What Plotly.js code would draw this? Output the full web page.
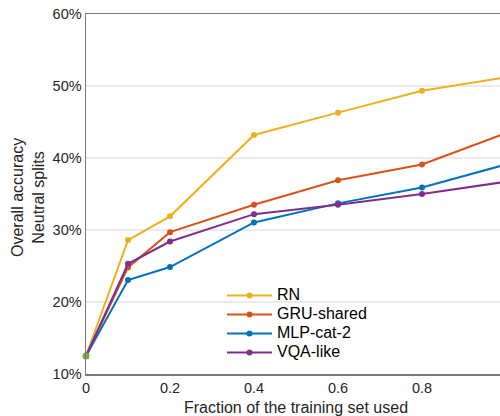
<!DOCTYPE html>
<html><head><meta charset="utf-8">
<script src="https://cdn.plot.ly/plotly-3.0.1.min.js"></script>
<style>html,body{margin:0;padding:0;overflow:hidden;background:#fff}</style>
</head><body>
<div id="chart"></div>
<script>
const fractions = [0, 0.1, 0.2, 0.4, 0.6, 0.8, 1.0];
const rn = [12.5, 28.6, 31.9, 43.2, 46.3, 49.35, 51.2];
const gruShared = [12.5, 24.8, 29.7, 33.5, 36.9, 39.1, 43.45];
const mlpCat2 = [12.5, 23.05, 24.85, 31.05, 33.7, 35.9, 39.1];
const vqaLike = [12.5, 25.3, 28.4, 32.2, 33.5, 35.0, 36.7];
const chanceX = [0];
const chanceY = [12.5];
const names = ['RN', 'GRU-shared', 'MLP-cat-2', 'VQA-like'];
const colors = ['#EDB120', '#D95319', '#0072BD', '#7E2F8E'];
const series = [rn, gruShared, mlpCat2, vqaLike];
const yTicks = [10, 20, 30, 40, 50, 60];
const yTickText = ['10%', '20%', '30%', '40%', '50%', '60%'];
const xTicks = [0, 0.2, 0.4, 0.6, 0.8, 1.0];
const xTickText = ['0', '0.2', '0.4', '0.6', '0.8', '1'];
const xTitle = 'Fraction of the training set used';
const yTitle = 'Overall accuracy<br>Neutral splits';

const traces = series.map((s, i) => ({
  x: fractions, y: s, name: '<span style="font-size:16px">' + names[i] + '</span>',
  type: 'scatter', mode: 'lines+markers', cliponaxis: false,
  line: {color: colors[i], width: 2}, marker: {color: colors[i], size: 6}
}));
traces.push({x: chanceX, y: chanceY, type: 'scatter', mode: 'markers', showlegend: false,
  cliponaxis: false, marker: {color: '#77AC30', size: 7}});

const font = 'Liberation Sans, Arial, Helvetica, sans-serif';
const layout = {
  width: 506, height: 416,
  margin: {l: 86, r: 0, t: 14, b: 42},
  paper_bgcolor: '#fff', plot_bgcolor: '#fff',
  font: {family: font, size: 14.5, color: '#262626'},
  showlegend: true,
  legend: {x: 0.3238, y: 0.2584, xanchor: 'left', yanchor: 'top', bgcolor: 'rgba(0,0,0,0)',
    font: {size: 12, color: '#000'}, itemwidth: 45, tracegroupgap: 0},
  xaxis: {range: [0, 1], tickvals: xTicks, ticktext: xTickText, showgrid: false, zeroline: false,
    showline: true, linecolor: '#7a7a7a', linewidth: 1.5, mirror: true, ticks: '',
    tickfont: {size: 14.5, color: '#262626'},
    title: {text: xTitle, font: {size: 16, color: '#262626'}, standoff: 8}},
  yaxis: {range: [10, 60], tickvals: yTicks, ticktext: yTickText, showgrid: true, gridcolor: '#ebebeb',
    gridwidth: 1.5, zeroline: false, showline: true, linecolor: '#7a7a7a', linewidth: 1.5, ticks: '',
    tickfont: {size: 14.5, color: '#262626'}},
  annotations: [{text: yTitle, xref: 'paper', yref: 'paper', x: -0.1369, y: 0.4903,
    xanchor: 'center', yanchor: 'middle', textangle: -90, showarrow: false,
    font: {size: 16, color: '#262626'}}]
};
Plotly.newPlot('chart', traces, layout, {displayModeBar: false, staticPlot: true});
</script>
</body></html>
